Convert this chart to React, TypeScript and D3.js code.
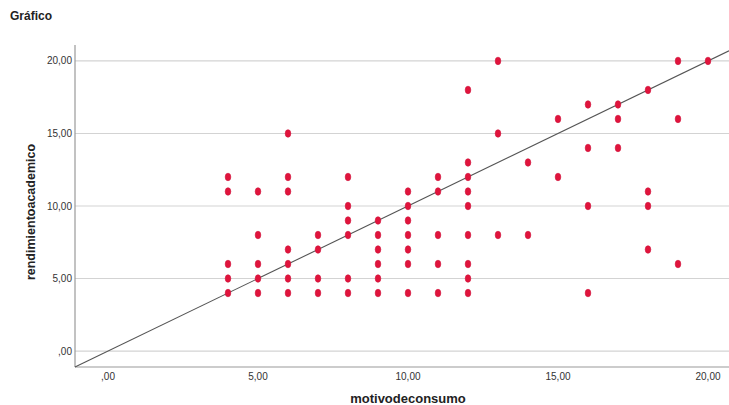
import React from "react";
import * as d3 from "d3";

const motivo: number[] = [
  4, 4, 4, 4, 4,
  5, 5, 5, 5, 5,
  6, 6, 6, 6, 6, 6, 6,
  7, 7, 7, 7,
  8, 8, 8, 8, 8, 8,
  9, 9, 9, 9, 9, 9,
  10, 10, 10, 10, 10, 10, 10,
  11, 11, 11, 11, 11,
  12, 12, 12, 12, 12, 12, 12, 12, 12,
  13, 13, 13,
  14, 14,
  15, 15,
  16, 16, 16, 16,
  17, 17, 17,
  18, 18, 18, 18,
  19, 19, 19,
  20,
];
const rendimiento: number[] = [
  12, 11, 6, 5, 4,
  11, 8, 6, 5, 4,
  15, 12, 11, 7, 6, 5, 4,
  8, 7, 5, 4,
  12, 10, 9, 8, 5, 4,
  9, 8, 7, 6, 5, 4,
  11, 10, 9, 8, 7, 6, 4,
  12, 11, 8, 6, 4,
  18, 13, 12, 11, 10, 8, 6, 5, 4,
  20, 15, 8,
  13, 8,
  16, 12,
  17, 14, 10, 4,
  17, 16, 14,
  18, 11, 10, 7,
  20, 16, 6,
  20,
];
const tickValues: number[] = [0, 5, 10, 15, 20];
const tickLabels: string[] = [",00", "5,00", "10,00", "15,00", "20,00"];

const W = 729;
const H = 405;
const left = 75;
const right = 729;
const top = 45;
const bottom = 367;

export default function App() {
  const x = d3.scaleLinear().domain([-1.1, 20.7]).range([left, right]);
  const y = d3.scaleLinear().domain([-1.1, 21.1]).range([bottom, top]);
  const font = "'Liberation Sans', Arial, sans-serif";
  const lineGen = d3.line<number>().x((d) => x(d)).y((d) => y(d));
  const diag = lineGen([-1.1, 20.7]) || "";
  return (
    <svg
      width={W}
      height={H}
      style={{ position: "absolute", left: 0, top: 0, background: "#fff" }}
      fontFamily={font}
    >
      <text x={10} y={20} fontSize={12} fontWeight="bold" fill="#222">
        Gráfico
      </text>
      {tickValues.map((t) => (
        <line
          key={"g" + t}
          x1={left}
          x2={right}
          y1={y(t)}
          y2={y(t)}
          stroke="#d3d3d3"
          strokeWidth={1.2}
        />
      ))}
      <line x1={left} x2={left} y1={top} y2={bottom} stroke="#999" strokeWidth={1.2} />
      <line x1={left} x2={right} y1={bottom} y2={bottom} stroke="#999" strokeWidth={1.2} />
      {tickValues.map((t, i) => (
        <text
          key={"yl" + t}
          x={left - 3}
          y={y(t)}
          dy="0.35em"
          textAnchor="end"
          fontSize={10}
          fill="#333"
        >
          {tickLabels[i]}
        </text>
      ))}
      {tickValues.map((t, i) => (
        <text
          key={"xl" + t}
          x={x(t)}
          y={bottom + 13}
          textAnchor="middle"
          fontSize={10}
          fill="#333"
        >
          {tickLabels[i]}
        </text>
      ))}
      <text
        x={x(10)}
        y={403}
        textAnchor="middle"
        fontSize={13}
        fontWeight="bold"
        fill="#222"
      >
        motivodeconsumo
      </text>
      <text
        transform={`translate(35, 212) rotate(-90)`}
        textAnchor="middle"
        fontSize={12.5}
        fontWeight="bold"
        fill="#222"
      >
        rendimientoacademico
      </text>
      <path d={diag} stroke="#555" strokeWidth={1.1} fill="none" />
      {motivo.map((m, i) => (
        <ellipse
          key={"p" + i}
          cx={x(m)}
          cy={y(rendimiento[i])}
          rx={2.8}
          ry={3.8}
          fill="#e0143c"
          stroke="#d0103a"
          strokeWidth={0.6}
        />
      ))}
    </svg>
  );
}
